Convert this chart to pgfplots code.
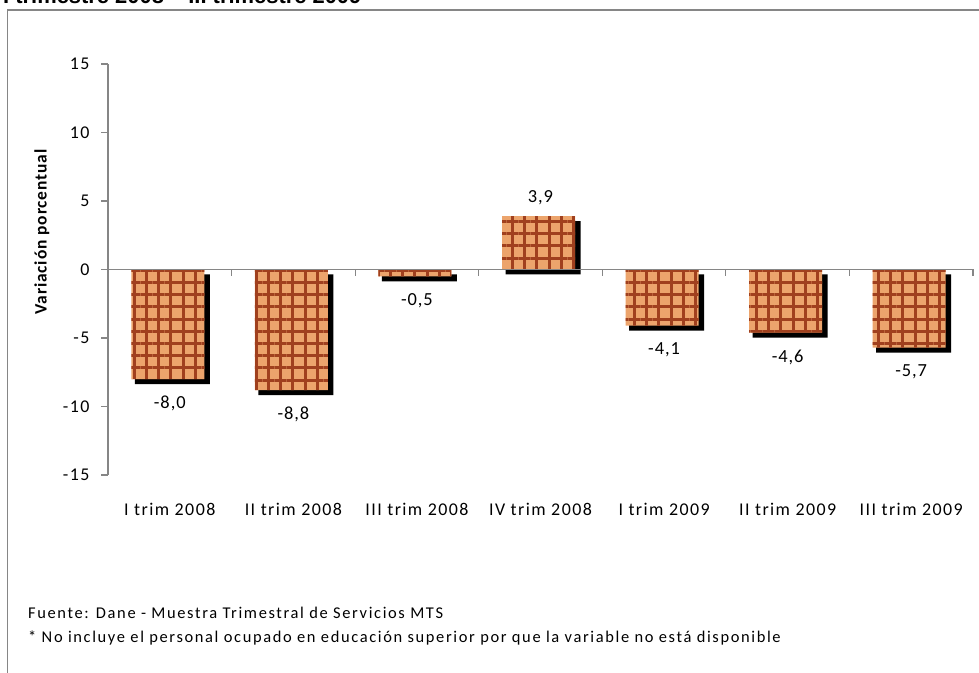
\documentclass[border=0pt]{standalone}
\usepackage{pgfplots}
\pgfplotsset{compat=1.18}
\usetikzlibrary{patterns.meta}
\usepackage{fontspec}
\setmainfont{Carlito}[LetterSpace=5.0]
\newfontfamily\tickfont{Carlito}[LetterSpace=8.0]
\newfontfamily\footfont{Carlito}[LetterSpace=10.0]
\newfontfamily\titlefont{Liberation Sans}
\definecolor{axgray}{RGB}{134,134,134}
\definecolor{tilebase}{RGB}{236,164,108}
\definecolor{tileline}{RGB}{160,64,30}
\begin{document}
\begin{tikzpicture}[x=1bp,y=1bp]
\draw[axgray, line width=1.5bp] (7.5,-5) -- (7.5,663) -- (990,663);
\node[anchor=base west, font=\titlefont\bfseries\fontsize{22}{26}\selectfont, inner sep=0] at (3,669) {I trimestre 2008 – III trimestre 2009};
\node[rotate=90, font=\bfseries\fontsize{17.5}{20}\selectfont] at (42,441) {Variación porcentual};
\node[anchor=west, font=\footfont\fontsize{16.5}{19}\selectfont, inner sep=0] at (28,60) {Fuente: Dane - Muestra Trimestral de Servicios MTS};
\node[anchor=west, font=\footfont\fontsize{16.5}{19}\selectfont, inner sep=0] at (28,35) {* No incluye el personal ocupado en educación superior por que la variable no está disponible};
\begin{axis}[
  at={(108bp,198bp)}, anchor=south west,
  width=865bp, height=411bp, scale only axis,
  xmin=-0.5, xmax=6.5, ymin=-15, ymax=15,
  axis lines*=left,
  x axis line style={draw=none},
  y axis line style={axgray, line width=1.5bp},
  xtick={0,...,6},
  xticklabels={I trim 2008, II trim 2008, III trim 2008, IV trim 2008, I trim 2009, II trim 2009, III trim 2009},
  xtick style={draw=none},
  ytick={-15,-10,...,15},
  ytick style={axgray, line width=1.2bp},
  tick align=outside, major tick length=7bp,
  xticklabel style={anchor=base, yshift=-34bp, font=\tickfont\fontsize{18}{20}\selectfont},
  yticklabel style={xshift=-8bp, font=\tickfont\fontsize{18}{20}\selectfont},
  /pgf/number format/assume math mode=true,
  clip=false,
]
\addplot[ybar, bar width=75bp, bar shift=2.5bp, fill=black, draw=none, yshift=-5bp]
  coordinates {(0,-8.0) (1,-8.8) (2,-0.5) (3,3.9) (4,-4.1) (5,-4.6) (6,-5.7)};
\addplot[ybar, bar width=73bp, bar shift=-2bp, fill=tilebase, draw=none,
  postaction={pattern={Hatch[angle=0,distance=12.2bp,line width=3bp]}, pattern color=tileline},
  nodes near coords, nodes near coords align=vertical,
  every node near coord/.append style={font=\fontsize{18.5}{21}\selectfont, inner ysep=11bp, black},
  coordinate style/.condition={y<0}{yshift=-6bp},
  /pgf/number format/.cd, fixed, fixed zerofill, precision=1, use comma]
  coordinates {(0,-8.0) (1,-8.8) (2,-0.5) (3,3.9) (4,-4.1) (5,-4.6) (6,-5.7)};
\draw[axgray, line width=1.5bp] (axis cs:-0.5,0) -- (axis cs:6.5,0);
\draw[axgray, line width=1.2bp] (axis cs:0.5,0) -- ++(0bp,-7bp);
\draw[axgray, line width=1.2bp] (axis cs:1.5,0) -- ++(0bp,-7bp);
\draw[axgray, line width=1.2bp] (axis cs:2.5,0) -- ++(0bp,-7bp);
\draw[axgray, line width=1.2bp] (axis cs:3.5,0) -- ++(0bp,-7bp);
\draw[axgray, line width=1.2bp] (axis cs:4.5,0) -- ++(0bp,-7bp);
\draw[axgray, line width=1.2bp] (axis cs:5.5,0) -- ++(0bp,-7bp);
\draw[axgray, line width=1.2bp] (axis cs:6.5,0) -- ++(0bp,-7bp);
\end{axis}
\pgfresetboundingbox
\path[use as bounding box] (0,0) rectangle (979,673);
\end{tikzpicture}
\end{document}
